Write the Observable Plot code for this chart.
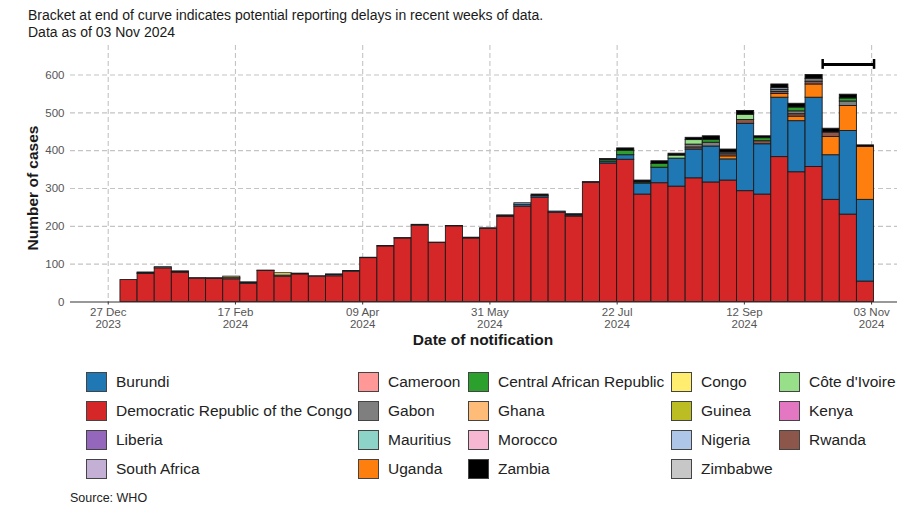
<!DOCTYPE html>
<html>
<head>
<meta charset="utf-8">
<script src="https://cdn.jsdelivr.net/npm/d3@7"></script>
<script src="https://cdn.jsdelivr.net/npm/@observablehq/plot@0.6"></script>
<style>
  html, body { margin: 0; padding: 0; background: #fff; }
  body { width: 913px; height: 506px; position: relative; overflow: hidden; font-family: "Liberation Sans", Arial, sans-serif; }
  #title { position: absolute; left: 28px; top: 7px; font-size: 14px; line-height: 17px; color: #1a1a1a; }
  #chart { position: absolute; left: 0; top: 0; }
  #ytitle { position: absolute; left: 33px; top: 188px; transform: translate(-50%, -50%) rotate(-90deg); font-weight: bold; font-size: 15.5px; color: #1a1a1a; white-space: nowrap; }
  #xtitle { position: absolute; left: 483px; top: 340px; transform: translate(-50%, -50%); font-weight: bold; font-size: 15.5px; color: #1a1a1a; white-space: nowrap; }
  #legend { position: absolute; left: 86px; top: 367px; display: grid; grid-template-columns: 272px 110px 203px 108px 130px; grid-auto-rows: 29.2px; }
  .item { display: flex; align-items: center; font-size: 15.5px; color: #222; white-space: nowrap; }
  .sw { width: 19px; height: 18px; border: 1px solid #444; margin-right: 9px; flex: none; }
  #source { position: absolute; left: 70px; top: 491px; font-size: 12.5px; color: #222; }
</style>
</head>
<body>
<div id="title">Bracket at end of curve indicates potential reporting delays in recent weeks of data.<br>Data as of 03 Nov 2024</div>
<div id="chart"></div>
<div id="ytitle">Number of cases</div>
<div id="xtitle">Date of notification</div>
<div id="legend"></div>
<div id="source">Source: WHO</div>
<script>
// ---- Data (weekly notifications, week starting Monday) ----
const weeks = [
  "2024-01-01","2024-01-08","2024-01-15","2024-01-22","2024-01-29",
  "2024-02-05","2024-02-12","2024-02-19","2024-02-26",
  "2024-03-04","2024-03-11","2024-03-18","2024-03-25",
  "2024-04-01","2024-04-08","2024-04-15","2024-04-22","2024-04-29",
  "2024-05-06","2024-05-13","2024-05-20","2024-05-27",
  "2024-06-03","2024-06-10","2024-06-17","2024-06-24",
  "2024-07-01","2024-07-08","2024-07-15","2024-07-22","2024-07-29",
  "2024-08-05","2024-08-12","2024-08-19","2024-08-26",
  "2024-09-02","2024-09-09","2024-09-16","2024-09-23","2024-09-30",
  "2024-10-07","2024-10-14","2024-10-21","2024-10-28"
];

const countries = [
  "Burundi","Cameroon","Central African Republic","Congo","Côte d'Ivoire",
  "Democratic Republic of the Congo","Gabon","Ghana","Guinea","Kenya",
  "Liberia","Mauritius","Morocco","Nigeria","Rwanda",
  "South Africa","Uganda","Zambia","Zimbabwe"
];
const colors = [
  "#1f77b4","#ff9896","#2ca02c","#ffed6f","#98df8a",
  "#d62728","#7f7f7f","#ffbb78","#bcbd22","#e377c2",
  "#9467bd","#8dd3c7","#f7b6d2","#aec7e8","#8c564b",
  "#c5b0d5","#ff7f0e","#000000","#c7c7c7"
];
const stackOrder = [
  "Democratic Republic of the Congo","Burundi","Uganda","Kenya","Rwanda","Gabon","Nigeria",
  "Côte d'Ivoire","Central African Republic","Congo","Guinea","Cameroon","South Africa",
  "Ghana","Liberia","Mauritius","Morocco","Zimbabwe","Zambia"
];

const drc = [58,74,89,77,62,61,60,48,82,67, 73,67,68,80,116,147,168,202,156,200,
  168,193,225,252,276,236,226,315,366,376, 284,314,305,327,316,321,293,284,383,343,
  357,270,231,54];
const burundi = [0,0,0,0,0,0,0,0,0,0, 0,0,0,0,0,0,0,0,0,0,
  0,0,2,5,4,3,3,2,5,12, 29,41,74,76,95,56,178,133,157,135,
  183,118,221,216];
const uganda = [0,0,0,0,0,0,0,0,0,0, 0,0,0,0,0,0,0,0,0,0,
  0,0,0,0,0,0,0,0,0,0, 0,0,0,0,0,8,0,0,10,12,
  35,48,66,140];
const nigeria = [0,2,3,2,1,2,3,2,1,3, 2,1,3,2,1,1,1,2,1,1,
  2,2,2,4,0,0,0,0,0,0, 0,0,0,0,0,0,0,0,5,0,
  0,0,0,0];
const cameroon = [0,2,0,2,0,0,0,2,0,0, 0,0,0,0,0,0,0,0,0,0,
  0,0,0,0,0,0,0,0,0,0, 0,0,0,0,0,0,0,0,0,0,
  0,0,0,0];
const southAfrica = [0,0,0,0,0,0,0,0,0,0, 0,0,2,0,0,0,0,0,0,0,
  0,0,0,0,0,0,0,0,0,0, 0,0,0,0,0,0,0,0,0,0,
  0,0,0,0];
const congo = [0,0,0,0,0,0,4,0,0,6, 0,0,0,0,0,0,0,0,0,0,
  0,0,0,0,0,0,0,0,0,0, 0,0,0,0,0,0,0,0,0,0,
  0,0,0,0];
const gabon = [0,0,0,0,0,0,0,0,0,0, 0,0,0,0,0,0,0,0,0,0,
  0,0,0,0,0,0,0,0,0,0, 0,0,0,8,10,5,0,0,5,8,
  8,0,12,0];
const rwanda = [0,0,0,0,0,0,0,0,0,0, 0,0,0,0,0,0,0,0,0,0,
  0,0,0,0,0,0,0,0,0,0, 0,0,0,5,0,5,10,8,5,6,
  7,12,0,0];
const car = [0,0,0,0,0,0,0,0,0,0, 0,0,0,0,0,0,0,0,0,0,
  0,0,0,0,0,0,0,0,4,12, 3,10,0,0,7,0,0,8,0,10,
  0,0,8,0];
const coteDIvoire = [0,0,0,0,0,0,0,0,0,0, 0,0,0,0,0,0,0,0,0,0,
  0,0,0,0,0,0,0,0,0,0, 0,0,8,12,0,0,14,0,0,0,
  0,0,0,0];
const zambia = [0,0,0,0,0,0,0,0,0,0, 0,0,0,0,0,0,0,0,0,0,
  0,0,0,0,4,0,3,0,3,6, 5,7,5,6,10,8,10,5,10,10,
  10,10,10,4];

const xTicks = ["2023-12-27","2024-02-17","2024-04-09","2024-05-31","2024-07-22","2024-09-12","2024-11-03"];
const yTicks = [0,100,200,300,400,500,600];
const xDomain = ["2023-12-11T14:00Z","2024-11-13T14:00Z"];
const yDomain = [0, 678];
const bracketDates = ["2024-10-14","2024-11-04"];
const bracketLevel = 628;
const bracketCap = 13;

// ---- Build table ----
const seriesByCountry = {
  "Democratic Republic of the Congo": drc,
  "Burundi": burundi,
  "Uganda": uganda,
  "Nigeria": nigeria,
  "Cameroon": cameroon,
  "South Africa": southAfrica,
  "Congo": congo,
  "Gabon": gabon,
  "Rwanda": rwanda,
  "Central African Republic": car,
  "Côte d'Ivoire": coteDIvoire,
  "Zambia": zambia
};
const rows = [];
weeks.forEach((w, i) => {
  const start = new Date(w);
  const end = d3.utcDay.offset(start, 7);
  for (const [country, vals] of Object.entries(seriesByCountry)) {
    if (vals[i] > 0) rows.push({start, end, country, cases: vals[i]});
  }
});

const tickDates = xTicks.map(d => new Date(d));
const bStart = new Date(bracketDates[0]), bEnd = new Date(bracketDates[1]);

const chart = Plot.plot({
  width: 913,
  height: 355,
  marginTop: 45,
  marginBottom: 53.5,
  marginLeft: 70,
  marginRight: 16,
  style: {fontFamily: "Liberation Sans, Arial, sans-serif", fontSize: "11.5px", background: "transparent", color: "#555"},
  x: {type: "utc", domain: xDomain.map(d => new Date(d))},
  y: {domain: yDomain},
  color: {domain: countries, range: colors},
  marks: [
    Plot.gridY({ticks: yTicks.slice(1), stroke: "#c4c4c4", strokeOpacity: 1, strokeWidth: 1.1, strokeDasharray: "5,3"}),
    Plot.gridX({ticks: tickDates, stroke: "#c4c4c4", strokeOpacity: 1, strokeWidth: 1.1, strokeDasharray: "5,3"}),
    Plot.rectY(rows, Plot.stackY({
      x1: "start", x2: "end", y: "cases", fill: "country",
      order: stackOrder, stroke: "#1a1a1a", strokeWidth: 0.9
    })),
    Plot.ruleY([0], {stroke: "#333", strokeWidth: 1}),
    Plot.axisY({ticks: yTicks, tickSize: 0, tickPadding: 6, label: null, fill: "#555"}),
    Plot.axisX({
      ticks: tickDates, tickSize: 3, tickPadding: 2, label: null, stroke: "#333", fill: "#555",
      lineHeight: 1.08,
      tickFormat: d => d3.utcFormat("%d %b")(d) + "\n" + d3.utcFormat("%Y")(d)
    }),
    Plot.ruleY([bracketLevel], {x1: bStart, x2: bEnd, stroke: "#000", strokeWidth: 3}),
    Plot.ruleX([bStart, bEnd], {y1: bracketLevel - bracketCap, y2: bracketLevel + bracketCap, stroke: "#000", strokeWidth: 2.5})
  ]
});
document.getElementById("chart").appendChild(chart);

// ---- Legend ----
const legend = document.getElementById("legend");
countries.forEach((c, i) => {
  const item = document.createElement("div");
  item.className = "item";
  const sw = document.createElement("span");
  sw.className = "sw";
  sw.style.background = colors[i];
  const lab = document.createElement("span");
  lab.textContent = c;
  item.appendChild(sw);
  item.appendChild(lab);
  legend.appendChild(item);
});
</script>
</body>
</html>
